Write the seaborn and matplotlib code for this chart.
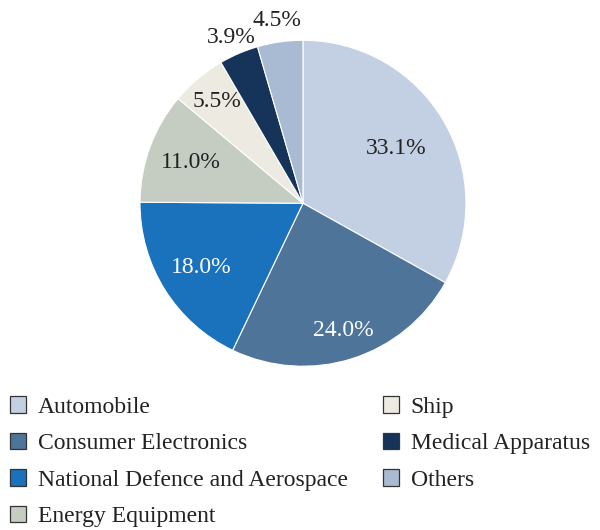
import numpy as np
import matplotlib
matplotlib.use('Agg')
import matplotlib.pyplot as plt
from matplotlib.patches import Patch
import seaborn as sns

categories = ['Automobile', 'Consumer Electronics', 'National Defence and Aerospace',
              'Energy Equipment', 'Ship', 'Medical Apparatus', 'Others']
shares = [33.1, 24.0, 18.0, 11.0, 5.5, 3.9, 4.5]
colors = ['#c3cfe3', '#4e7499', '#1a72bc', '#c5cdc3', '#edebe1', '#16335a', '#a9bbd2']
label_dist = [0.66, 0.82, 0.74, 0.73, 0.82, 1.11, 1.13]
label_colors = ['#222222', 'white', 'white', '#222222', '#222222', '#222222', '#222222']

sns.set_theme(style='white')
plt.rcParams['font.family'] = ['Liberation Serif', 'DejaVu Serif']

fig = plt.figure(figsize=(6, 5.3), dpi=100)
ax = fig.add_axes([0.2333, 0.309, 0.5433, 0.615])
wedges, _ = ax.pie(shares, colors=colors, startangle=90, counterclock=False,
                   wedgeprops=dict(edgecolor='white', linewidth=0.8))
for w, s, d, c in zip(wedges, shares, label_dist, label_colors):
    ang = np.deg2rad((w.theta1 + w.theta2) / 2)
    ax.text(d * np.cos(ang), d * np.sin(ang), f'{s:.1f}%', ha='center', va='center',
            fontsize=17, color=c)
ax.set_xlim(-1, 1)
ax.set_ylim(-1, 1)
ax.set_aspect('equal')
ax.axis('off')

handles = [Patch(facecolor=c, edgecolor='#333333', linewidth=0.9) for c in colors]
fig.legend(handles, categories, loc='upper left', bbox_to_anchor=(0.017, 0.252),
           ncol=2, frameon=False, fontsize=17, handlelength=0.68, handleheight=0.68,
           handletextpad=0.5, labelspacing=0.64, columnspacing=1.48, borderaxespad=0,
           borderpad=0, labelcolor='#222222')

fig.savefig('out.png', dpi=100)
